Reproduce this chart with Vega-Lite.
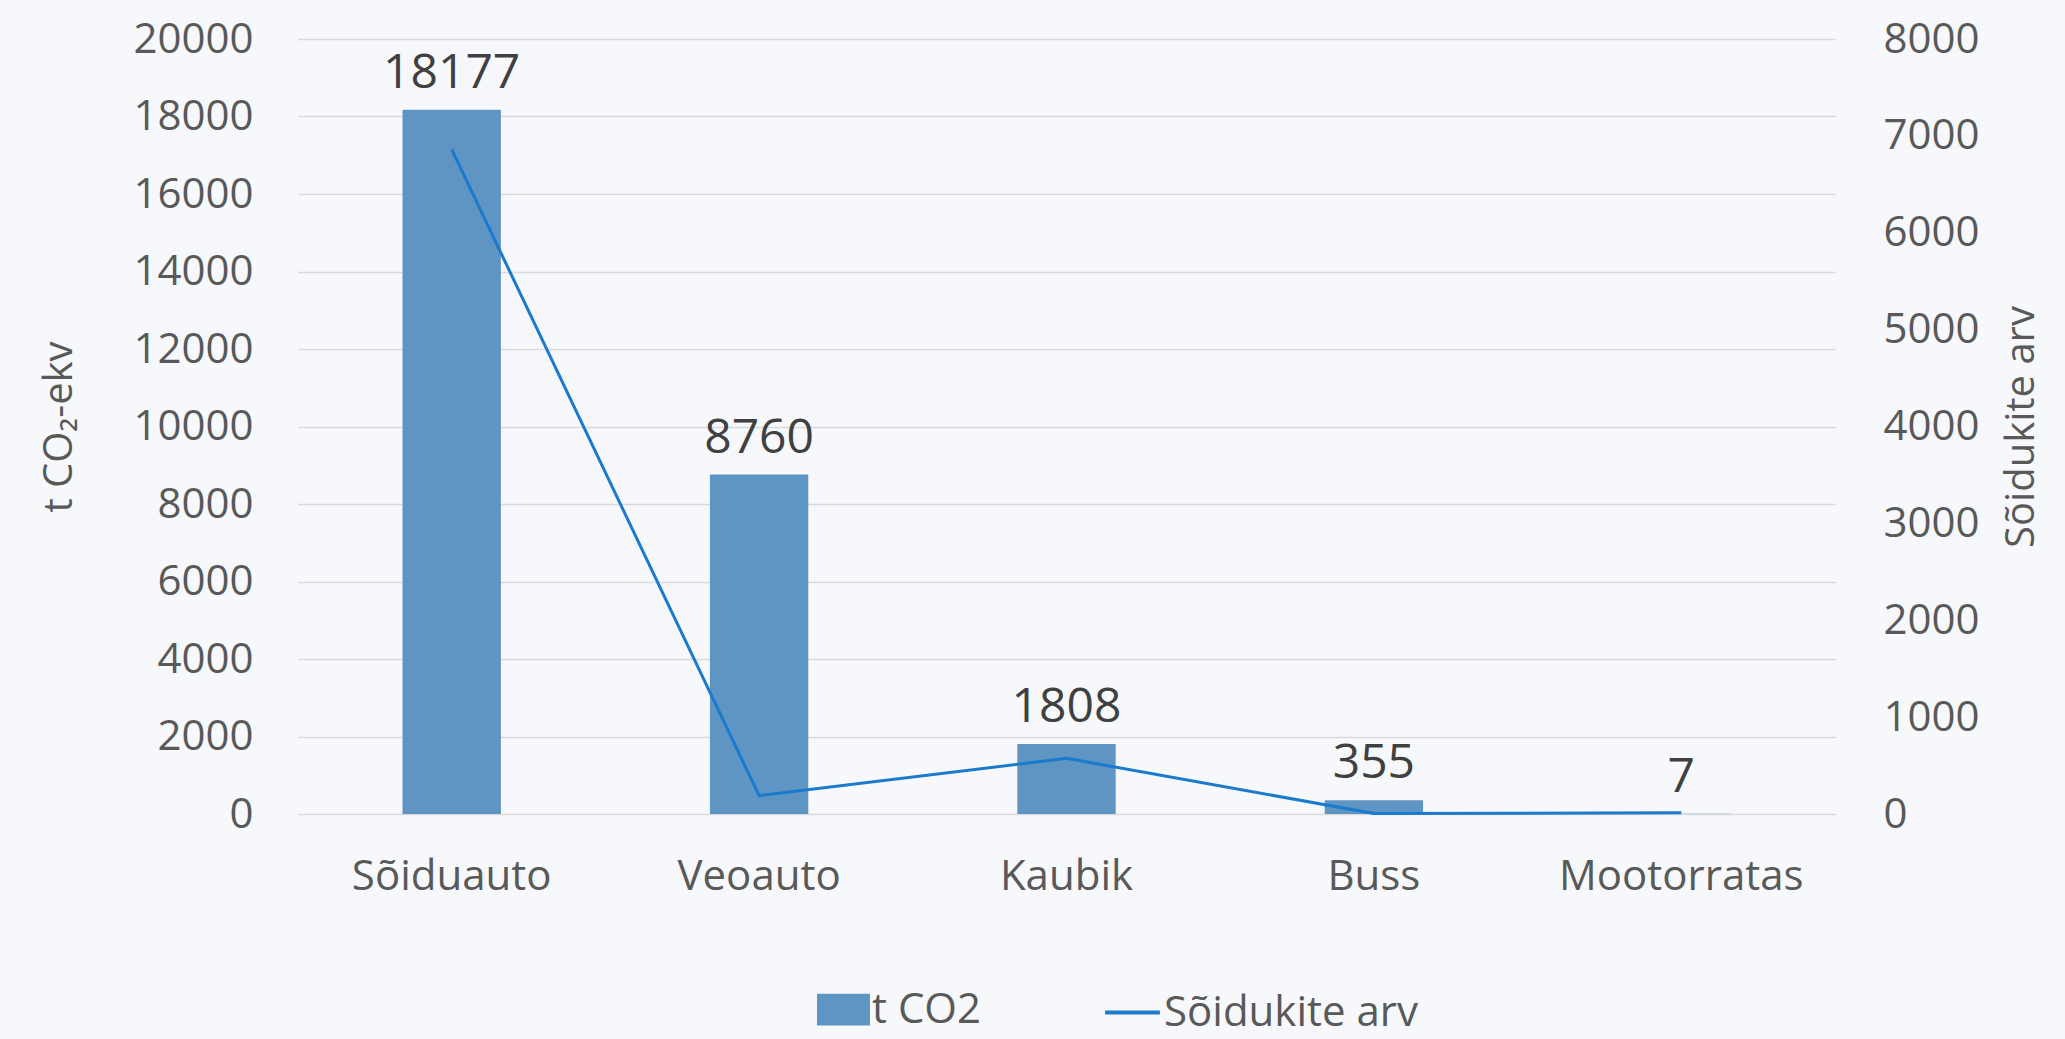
{
  "$schema": "https://vega.github.io/schema/vega-lite/v6.json",
  "autosize": {"type": "none"},
  "width": 1537,
  "height": 775,
  "padding": {"left": 298, "top": 39, "right": 230, "bottom": 225},
  "background": "#f7f8fc",
  "config": {
    "view": {"stroke": null},
    "font": "Open Sans",
    "axis": {"labelFont": "Open Sans", "titleFont": "Open Sans", "labelColor": "#595959", "titleColor": "#595959", "titleFontWeight": "normal", "labelLimit": 0},
    "legend": {"labelFont": "Open Sans", "labelColor": "#595959", "labelLimit": 0}
  },
  "data": {
    "values": [
      {"tyyp": "Sõiduauto", "co2": 18177, "arv": 6860},
      {"tyyp": "Veoauto", "co2": 8760, "arv": 190},
      {"tyyp": "Kaubik", "co2": 1808, "arv": 575},
      {"tyyp": "Buss", "co2": 355, "arv": 5},
      {"tyyp": "Mootorratas", "co2": 7, "arv": 12}
    ]
  },
  "encoding": {
    "x": {
      "field": "tyyp", "type": "nominal", "sort": null,
      "scale": {"paddingInner": 0.68, "paddingOuter": 0.34},
      "axis": {"title": null, "labelAngle": 0, "labelFontSize": 42, "labelPadding": 42, "ticks": false, "domain": false, "grid": false}
    }
  },
  "layer": [
    {
      "layer": [
        {
          "mark": {"type": "bar"},
          "encoding": {
            "y": {
              "field": "co2", "type": "quantitative",
              "scale": {"domain": [0, 20000]},
              "axis": {"title": "t CO₂-ekv", "orient": "left", "values": [0,2000,4000,6000,8000,10000,12000,14000,16000,18000,20000], "labelFontSize": 42, "labelPadding": 45, "ticks": false, "domain": false, "grid": true, "gridColor": "#d9d9d9", "gridWidth": 1.5, "titleFontSize": 40, "titlePadding": 53, "format": "d"}
            },
            "fill": {
              "datum": "t CO2",
              "scale": {"range": ["#5f95c3"]},
              "legend": {"title": null, "orient": "none", "legendX": 519, "legendY": 944, "labelFontSize": 42, "symbolType": "M-1,-0.6H1V0.6H-1Z", "symbolSize": 2800, "symbolStrokeWidth": 0, "labelOffset": 2}
            }
          }
        },
        {
          "mark": {"type": "text", "baseline": "bottom", "dy": -12, "fontSize": 48, "color": "#404040"},
          "encoding": {
            "y": {"field": "co2", "type": "quantitative", "scale": {"domain": [0, 20000]}},
            "text": {"field": "co2", "type": "quantitative", "format": "d"}
          }
        }
      ]
    },
    {
      "mark": {"type": "line", "strokeWidth": 3},
      "encoding": {
        "y": {
          "field": "arv", "type": "quantitative",
          "scale": {"domain": [0, 8000]},
          "axis": {"title": "Sõidukite arv", "orient": "right", "titleAngle": 270, "values": [0,1000,2000,3000,4000,5000,6000,7000,8000], "labelFontSize": 42, "labelPadding": 48, "ticks": false, "domain": false, "grid": false, "titleFontSize": 40, "titlePadding": 62, "format": "d"}
        },
        "stroke": {
          "datum": "Sõidukite arv",
          "scale": {"range": ["#1a7acb"]},
          "legend": {"title": null, "orient": "none", "legendX": 805, "legendY": 944, "labelFontSize": 42, "symbolType": "stroke", "symbolSize": 3000, "symbolStrokeWidth": 4, "labelOffset": 2}
        }
      }
    }
  ],
  "resolve": {"scale": {"y": "independent"}}
}
